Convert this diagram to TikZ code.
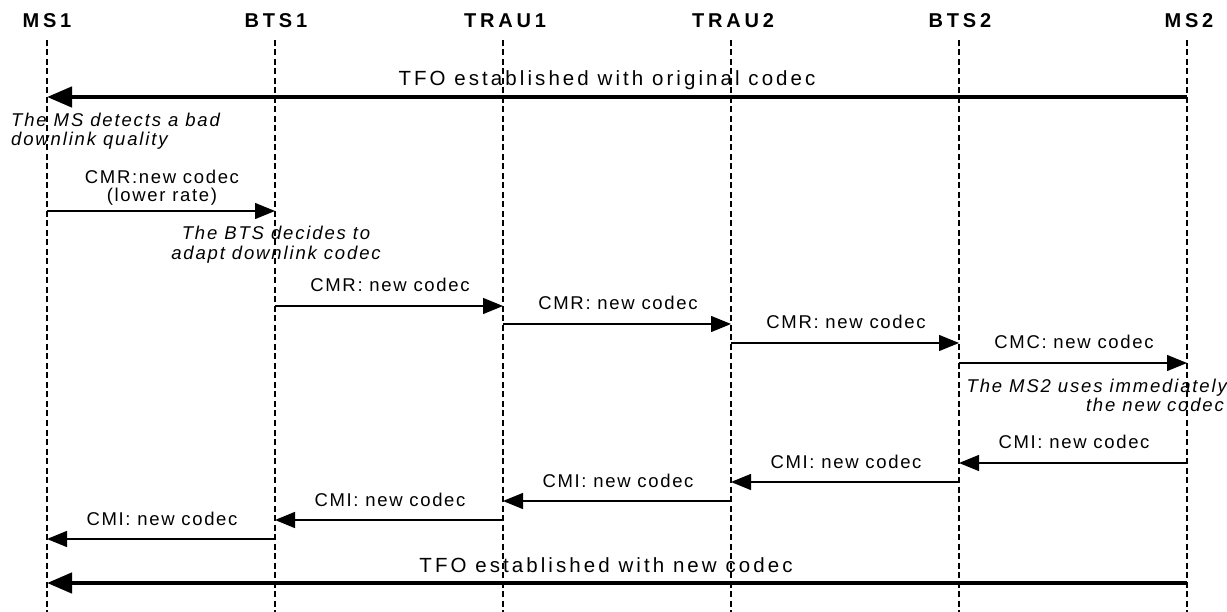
\documentclass[tikz,border=0pt]{standalone}
\usepackage{fontspec}
\setmainfont{Liberation Sans}
\newfontfamily\lblfont[LetterSpace=9]{Liberation Sans}
\newfontfamily\notefont[LetterSpace=10]{Liberation Sans}
\newfontfamily\tfofont[LetterSpace=15]{Liberation Sans}
\newfontfamily\hdrfont[LetterSpace=19]{Liberation Sans}
\usetikzlibrary{arrows.meta}
\begin{document}
\begin{tikzpicture}[x=1pt,y=-1pt,
  hdr/.style={font=\hdrfont\bfseries\fontsize{20}{24}\selectfont, inner sep=0pt, anchor=base},
  lbl/.style={font=\lblfont\fontsize{18.5}{22}\selectfont, inner sep=0pt, anchor=base},
  note/.style={font=\notefont\itshape\fontsize{18.5}{22}\selectfont, inner sep=0pt, anchor=base},
  tfo/.style={font=\tfofont\fontsize{20.5}{24}\selectfont, inner sep=0pt, anchor=base},
  life/.style={line width=1.3pt, dash pattern=on 6pt off 3.5pt},
  msg/.style={line width=1.3pt, -{Triangle[length=20pt,width=16pt]}},
  big/.style={line width=4.5pt, -{Triangle[length=25pt,width=20pt]}}]
\useasboundingbox (0,0) rectangle (1227,612);

% headers
\node[hdr] (ms1) at (47,28) {MS1};
\node[hdr] (bts1) at (276,28) {BTS1};
\node[hdr] (trau1) at (505,28) {TRAU1};
\node[hdr] (trau2) at (733,28) {TRAU2};
\node[hdr] (bts2) at (960,28) {BTS2};
\node[hdr] (ms2) at (1189,28) {MS2};

% lifelines
\coordinate (L1) at (47,40);   \coordinate (L1b) at (47,612);
\coordinate (L2) at (275,40);  \coordinate (L2b) at (275,612);
\coordinate (L3) at (503,40);  \coordinate (L3b) at (503,612);
\coordinate (L4) at (731,40);  \coordinate (L4b) at (731,612);
\coordinate (L5) at (959,40);  \coordinate (L5b) at (959,612);
\coordinate (L6) at (1187,40); \coordinate (L6b) at (1187,612);
\foreach \i in {1,...,6} { \draw[life] (L\i) -- (L\i b); }

% TFO original
\node[tfo] (tfo1) at (607,86) {TFO established with original codec};
\draw[big] (L6 |- 0,97) -- (L1 |- 0,97);

\node[note, anchor=base west] (n1a) at (11,127) {The MS detects a bad};
\node[note, anchor=base west] (n1b) at (11,146) {downlink quality};

% CMR from MS1
\node[lbl] (c1a) at (162,184) {CMR:new codec};
\node[lbl] (c1b) at (162,202) {(lower rate)};
\draw[msg] (L1 |- 0,211) -- (L2 |- 0,211);

\node[note] (n2a) at (276,240) {The BTS decides to};
\node[note] (n2b) at (276,260) {adapt downlink codec};

\node[lbl] (c2) at (390,292) {CMR: new codec};
\draw[msg] (L2 |- 0,306) -- (L3 |- 0,306);
\node[lbl] (c3) at (618,310) {CMR: new codec};
\draw[msg] (L3 |- 0,324) -- (L4 |- 0,324);
\node[lbl] (c4) at (846,329) {CMR: new codec};
\draw[msg] (L4 |- 0,343) -- (L5 |- 0,343);
\node[lbl] (c5) at (1074,349) {CMC: new codec};
\draw[msg] (L5 |- 0,363) -- (L6 |- 0,363);

\node[note, anchor=base east] (n3a) at (1227,392) {The MS2 uses immediately};
\node[note, anchor=base east] (n3b) at (1224,411) {the new codec};

% CMI back
\node[lbl] (d1) at (1074,449) {CMI: new codec};
\draw[msg] (L6 |- 0,463) -- (L5 |- 0,463);
\node[lbl] (d2) at (846,468) {CMI: new codec};
\draw[msg] (L5 |- 0,482) -- (L4 |- 0,482);
\node[lbl] (d3) at (618,487) {CMI: new codec};
\draw[msg] (L4 |- 0,501) -- (L3 |- 0,501);
\node[lbl] (d4) at (390,506) {CMI: new codec};
\draw[msg] (L3 |- 0,520) -- (L2 |- 0,520);
\node[lbl] (d5) at (162,525) {CMI: new codec};
\draw[msg] (L2 |- 0,539) -- (L1 |- 0,539);

% TFO new
\node[tfo] (tfo2) at (606,572) {TFO established with new codec};
\draw[big] (L6 |- 0,583) -- (L1 |- 0,583);
\end{tikzpicture}
\end{document}
